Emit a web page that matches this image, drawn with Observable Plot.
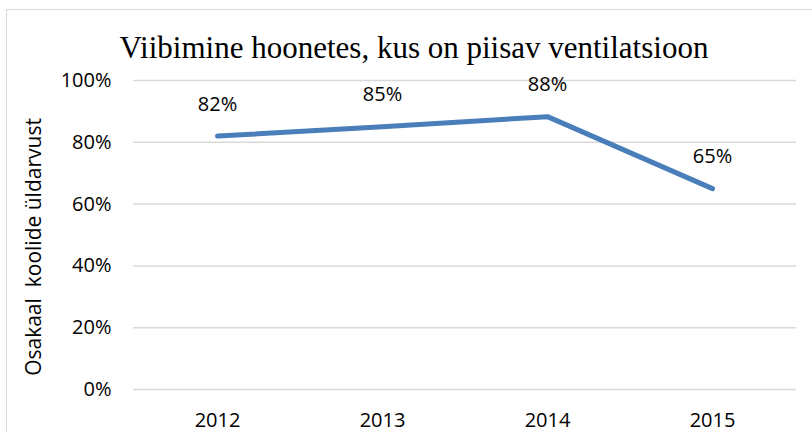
<!DOCTYPE html>
<html>
<head>
<meta charset="utf-8">
<script src="https://cdn.jsdelivr.net/npm/d3@7"></script>
<script src="https://cdn.jsdelivr.net/npm/@observablehq/plot@0.6"></script>
<style>
  html, body { margin: 0; padding: 0; background: #fff; }
  #wrap { position: relative; width: 812px; height: 432px; overflow: hidden; }
  #border { position: absolute; left: 6px; top: 9px; width: 900px; height: 500px;
            border-top: 1.5px solid #d9d9d9; border-left: 1.5px solid #d9d9d9; pointer-events: none; }
</style>
</head>
<body>
<div id="wrap"><div id="border"></div></div>
<script>
const years = ["2012", "2013", "2014", "2015"];
const shares = [0.82, 0.85, 0.883, 0.65];
const labels = ["82%", "85%", "88%", "65%"];
const yTicks = [0, 0.2, 0.4, 0.6, 0.8, 1.0];
const title = "Viibimine hoonetes, kus on piisav ventilatsioon";
const yTitle = "Osakaal  koolide üldarvust";

const data = years.map((y, i) => ({year: y, share: shares[i], label: labels[i]}));
const font = "'Open Sans', sans-serif";

const chart = Plot.plot({
  width: 812,
  height: 432,
  marginLeft: 133,
  marginRight: 16,
  marginTop: 80,
  marginBottom: 43,
  style: {fontFamily: font, fontSize: "20px", color: "#000", background: "transparent", overflow: "visible"},
  x: {type: "point", domain: years, padding: 0.5},
  y: {domain: [0, 1]},
  marks: [
    Plot.gridY(yTicks, {stroke: "#d9d9d9", strokeOpacity: 1, strokeWidth: 1.5}),
    Plot.axisY(yTicks, {tickSize: 0, tickPadding: 22, tickFormat: d3.format(".0%"), label: null, fontSize: 20}),
    Plot.axisX({tickSize: 0, tickPadding: 23, label: null, fontSize: 20}),
    Plot.line(data, {x: "year", y: "share", stroke: "#4A7EBB", strokeWidth: 5, strokeLinecap: "round", strokeLinejoin: "round"}),
    Plot.text(data, {x: "year", y: "share", text: "label", dy: -32, lineAnchor: "middle", fontSize: 20, fill: "#000"}),
    Plot.text([title], {frameAnchor: "top", dx: -51, dy: -32, lineAnchor: "middle", fontSize: 31, fontFamily: "'Liberation Serif', 'Times New Roman', serif", fill: "#000"}),
    Plot.text([yTitle], {frameAnchor: "left", dx: -99, dy: 12, rotate: -90, lineAnchor: "middle", textAnchor: "middle", fontSize: 21, fill: "#000"})
  ]
});
document.getElementById("wrap").prepend(chart);
</script>
</body>
</html>
